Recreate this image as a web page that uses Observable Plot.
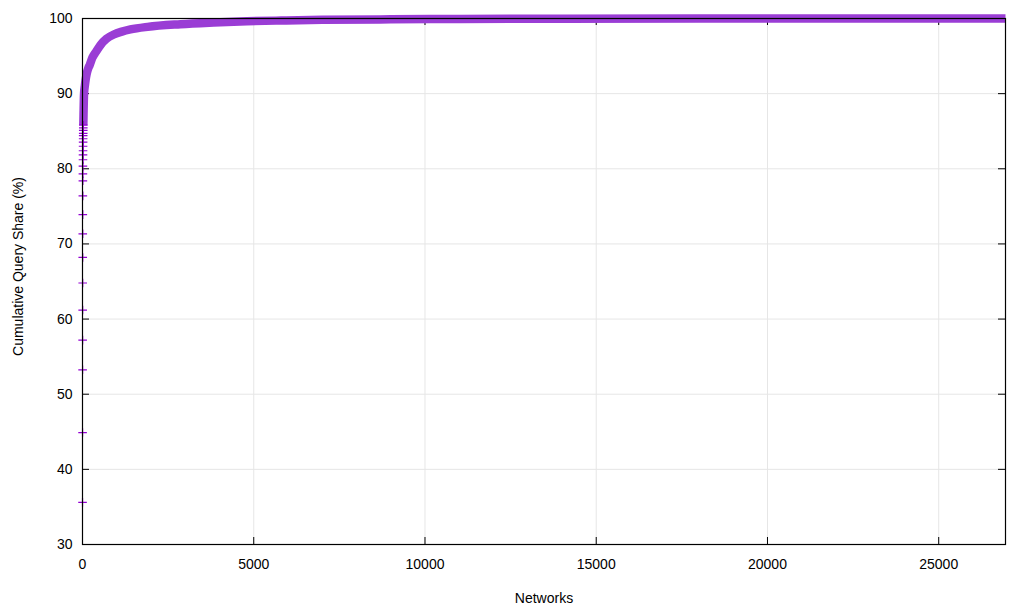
<!DOCTYPE html>
<html>
<head>
<meta charset="utf-8">
<script src="https://cdn.jsdelivr.net/npm/d3@7"></script>
<script src="https://cdn.jsdelivr.net/npm/@observablehq/plot@0.6"></script>
<style>
  html, body { margin: 0; padding: 0; background: white; }
</style>
</head>
<body>
<div id="chart"></div>
<script>
// Individually visible points (network rank -> cumulative share %)
const markerRank  = [1, 2, 3, 4, 5, 6, 7, 8, 9, 10, 11, 12, 13, 14, 15, 16, 17, 18, 19, 20, 21, 22, 23, 24];
const markerShare = [35.6, 44.9, 53.25, 57.2, 61.2, 64.8, 68.2, 71.35, 73.9, 76.4, 78.4, 79.33,
                     80.35, 81.2, 81.86, 82.4, 83.0, 83.55, 84.0, 84.4, 84.7, 85.1, 85.45, 85.8];

// Dense part of the curve, where the markers merge into a band
const bandRank  = [24, 30, 45, 70, 90, 120, 170, 210, 290, 400, 530, 700, 914, 1150, 1400, 1900,
                   2860, 3830, 4800, 5800, 7000, 9000, 11000, 14000, 18000, 22000, 26950];
const bandShare = [85.8, 87.2, 90.0, 91.1, 91.8, 92.6, 93.4, 93.8, 94.8, 95.6, 96.5, 97.3, 97.87, 98.25,
                   98.54, 98.89, 99.24, 99.46, 99.63, 99.73, 99.82, 99.89, 99.94, 99.97, 99.99, 100, 100];

const xTicks = [0, 5000, 10000, 15000, 20000, 25000];
const yTicks = [30, 40, 50, 60, 70, 80, 90, 100];
const xDomain = [0, 26950];
const yDomain = [30, 100];

const markers = markerRank.map((r, i) => ({rank: r, share: markerShare[i]}));
const band = bandRank.map((r, i) => ({rank: r, share: bandShare[i]}));

const W = 1024, H = 609;
const mL = 82, mR = 19, mT = 18, mB = 65;
const innerW = W - mL - mR, innerH = H - mT - mB;
const tickLen = 7;

const gnuPlus = {
  draw(ctx, size) {
    const r = Math.sqrt(size / Math.PI);
    ctx.moveTo(-r, 0); ctx.lineTo(r, 0);
    ctx.moveTo(0, -r); ctx.lineTo(0, r);
  }
};

const color = "#9a3dd5";
const gridColor = "#e6e6e6";

const chart = Plot.plot({
  width: W,
  height: H,
  marginLeft: mL,
  marginRight: mR,
  marginTop: mT,
  marginBottom: mB,
  x: {domain: xDomain},
  y: {domain: yDomain},
  style: {fontFamily: "'Liberation Sans', Arial, Helvetica, sans-serif", fontSize: "14px", color: "black", background: "white"},
  marks: [
    Plot.gridX(xTicks, {stroke: gridColor, strokeOpacity: 1, strokeWidth: 1}),
    Plot.gridY(yTicks, {stroke: gridColor, strokeOpacity: 1, strokeWidth: 1}),
    Plot.axisX(xTicks, {anchor: "bottom", tickSize: 0, tickPadding: 15, label: null, tickFormat: d => String(d), fontSize: 14}),
    Plot.axisY(yTicks, {anchor: "left", tickSize: 0, tickPadding: 10, label: null, tickFormat: d => String(d), fontSize: 14}),
    // inward ticks on all four sides
    Plot.tickX(xTicks, {x: d => d, insetTop: innerH - tickLen, stroke: "black", strokeWidth: 1}),
    Plot.tickX(xTicks, {x: d => d, insetBottom: innerH - tickLen, stroke: "black", strokeWidth: 1}),
    Plot.tickY(yTicks, {y: d => d, insetRight: innerW - tickLen, stroke: "black", strokeWidth: 1}),
    Plot.tickY(yTicks, {y: d => d, insetLeft: innerW - tickLen, stroke: "black", strokeWidth: 1}),
    // data
    Plot.line(band, {x: "rank", y: "share", stroke: color, strokeWidth: 8.5, curve: "monotone-x", strokeLinecap: "butt"}),
    Plot.dot(markers, {x: "rank", y: "share", symbol: gnuPlus, r: 4.3, stroke: "#9400d3", fill: "none", strokeWidth: 1.2}),
    Plot.frame({stroke: "black", strokeWidth: 1.2}),
    // axis titles
    Plot.text(["Networks"], {frameAnchor: "bottom", dy: 54, fontSize: 14, fill: "black", textAnchor: "middle", lineAnchor: "middle"}),
    Plot.text(["Cumulative Query Share (%)"], {frameAnchor: "left", dx: -64, dy: -15, rotate: -90, fontSize: 14, fill: "black", textAnchor: "middle", lineAnchor: "middle"})
  ]
});

document.getElementById("chart").appendChild(chart);
</script>
</body>
</html>
